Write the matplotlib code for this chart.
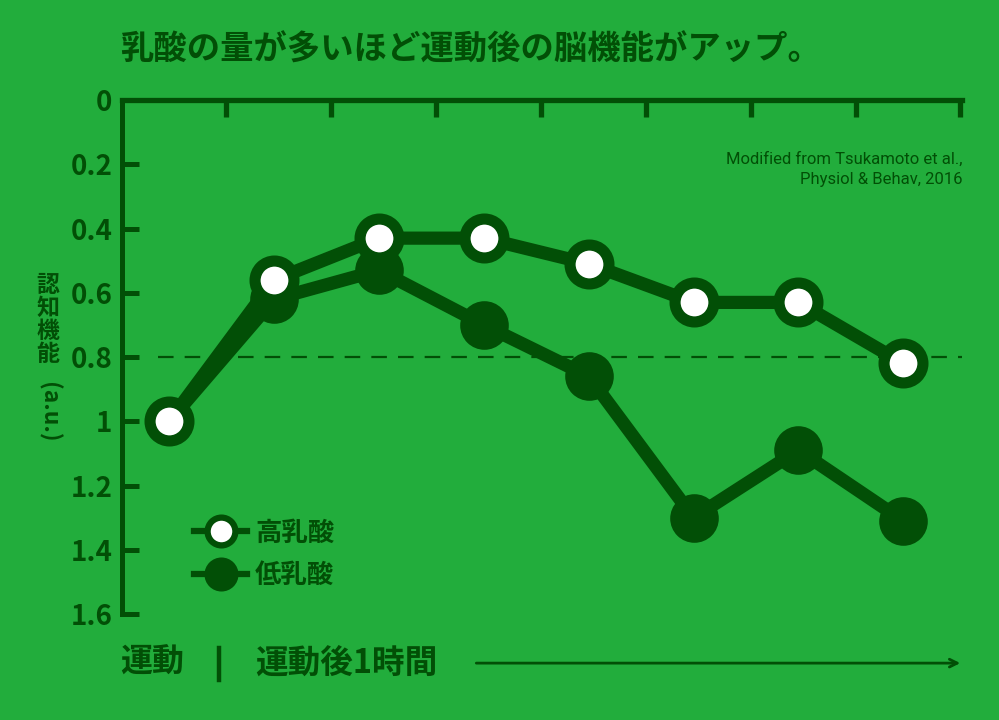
import numpy as np
import matplotlib
matplotlib.use("Agg")
import matplotlib.pyplot as plt
from matplotlib.lines import Line2D

plt.rcParams['font.family'] = ['Noto Sans CJK JP', 'DejaVu Sans']

BG = '#22ad3c'
DARK = '#024f06'

# data (cognitive function, a.u., inverted axis)
timepoints = np.arange(8)
high_lactate = [1.00, 0.56, 0.43, 0.43, 0.51, 0.63, 0.63, 0.82]
low_lactate = [1.00, 0.62, 0.53, 0.70, 0.86, 1.30, 1.09, 1.31]
series_labels = ['高乳酸', '低乳酸']
ytick_values = [0, 0.2, 0.4, 0.6, 0.8, 1.0, 1.2, 1.4, 1.6]
ytick_labels = ['0', '0.2', '0.4', '0.6', '0.8', '1', '1.2', '1.4', '1.6']
reference_level = 0.8

fig = plt.figure(figsize=(9.99, 7.2), dpi=100, facecolor=BG)
ax = fig.add_axes([0.1221, 0.1472, 0.963 - 0.1221, 0.8611 - 0.1472])
ax.set_facecolor(BG)

# dashed reference line
ax.axhline(reference_level, xmin=0.043, xmax=1.0, color=DARK, lw=1.6,
           dashes=(7, 5), zorder=1)

# low lactate first so the white markers sit on top
ax.plot(timepoints, low_lactate, color=DARK, lw=9.5, marker='o', ms=35,
        mfc=DARK, mec=DARK, mew=0, zorder=2)
ax.plot(timepoints, high_lactate, color=DARK, lw=9.5, marker='o', ms=28,
        mfc='white', mec=DARK, mew=8, zorder=3)

ax.set_xlim(-0.45, 7.56)
ax.set_ylim(1.6, 0)

for side in ['right', 'bottom']:
    ax.spines[side].set_visible(False)
ax.spines['top'].set_linewidth(3.8)
ax.spines['left'].set_linewidth(3.6)
ax.spines['top'].set_color(DARK)
ax.spines['left'].set_color(DARK)

ax.xaxis.tick_top()
ax.set_xticks(np.arange(8) + 0.545)
ax.set_xticklabels([])
ax.tick_params(axis='x', direction='in', length=12, width=3.8, color=DARK)

ax.set_yticks(ytick_values)
ax.set_yticklabels(ytick_labels)
ax.tick_params(axis='y', direction='in', length=12.5, width=3.6, color=DARK,
               labelcolor=DARK, pad=7, labelsize=20)
for lbl in ax.get_yticklabels():
    lbl.set_fontweight('bold')

# legend
handles = [
    Line2D([], [], color=DARK, lw=4.5, marker='o', ms=20, mfc='white',
           mec=DARK, mew=4.5),
    Line2D([], [], color=DARK, lw=4.5, marker='o', ms=24.5, mfc=DARK,
           mec=DARK, mew=0),
]
leg = ax.legend(handles, series_labels, loc='upper left',
                bbox_to_anchor=(0.058, 0.23), frameon=False, fontsize=19,
                handlelength=2.0, handletextpad=0.3, labelspacing=0.6)
for t in leg.get_texts():
    t.set_color(DARK)
    t.set_fontweight('bold')

# title
fig.text(0.12, 0.93, '乳酸の量が多いほど運動後の脳機能がアップ。', fontsize=24,
         fontweight='bold', color=DARK, ha='left', va='center')

# source note
fig.text(0.963, 0.765, 'Modified from Tsukamoto et al.,\nPhysiol & Behav, 2016',
         fontsize=12, color=DARK, ha='right', va='center', linespacing=1.45,
         family=['Roboto', 'DejaVu Sans'])

# vertical y label (upright CJK, rotated parentheses part)
fig.text(0.048, 0.555, '認\n知\n機\n能', fontsize=16.5, color=DARK,
         ha='center', va='center', linespacing=1.0, fontweight='bold')
fig.text(0.048, 0.428, '(a.u.)', fontsize=16.5, color=DARK, rotation=-90,
         ha='center', va='center', fontweight='bold')

# bottom time annotation
fig.text(0.12, 0.079, '運動', fontsize=23, color=DARK, ha='left',
         va='center', fontweight='bold')
fig.add_artist(Line2D([0.219, 0.219], [0.055, 0.1], color=DARK, lw=3.2,
                      transform=fig.transFigure))
fig.text(0.255, 0.079, '運動後1時間', fontsize=23.5, color=DARK, ha='left',
         va='center', fontweight='bold')
fig.add_artist(plt.Annotation('', xy=(0.964, 0.079), xytext=(0.474, 0.079),
                              xycoords='figure fraction',
                              textcoords='figure fraction',
                              arrowprops=dict(arrowstyle='->', color=DARK,
                                              lw=2, mutation_scale=14)))

fig.savefig('out.png', dpi=100, facecolor=BG)
